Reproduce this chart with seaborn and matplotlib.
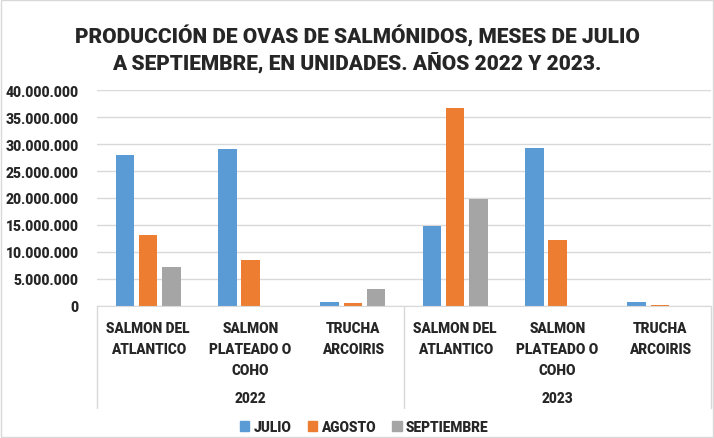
import numpy as np
import pandas as pd
import matplotlib
matplotlib.use("Agg")
import matplotlib.pyplot as plt
import matplotlib.ticker as mticker
import seaborn as sns

years = ["2022", "2023"]
species = ["SALMON DEL\nATLANTICO", "SALMON\nPLATEADO O\nCOHO", "TRUCHA\nARCOIRIS"]
months = ["JULIO", "AGOSTO", "SEPTIEMBRE"]

julio_2022 = [28000000, 29000000, 740000]
agosto_2022 = [13100000, 8500000, 600000]
sept_2022 = [7200000, 0, 3100000]
julio_2023 = [14800000, 29300000, 800000]
agosto_2023 = [36600000, 12200000, 250000]
sept_2023 = [19800000, 0, 30000]

colors = ["#5B9BD5", "#ED7D31", "#A5A5A5"]

rows = []
series = {
    "2022": [julio_2022, agosto_2022, sept_2022],
    "2023": [julio_2023, agosto_2023, sept_2023],
}
for y in years:
    for m, vals in zip(months, series[y]):
        for s, v in zip(species, vals):
            rows.append({"cat": y + "|" + s, "mes": m, "valor": v})
df = pd.DataFrame(rows)
order = [y + "|" + s for y in years for s in species]

W = "heavy"
sns.set_style("white")
plt.rcParams["font.family"] = ["Roboto", "DejaVu Sans"]
plt.rcParams["font.weight"] = W

fig = plt.figure(figsize=(7.14, 4.39), dpi=100)
ax = fig.add_axes([0.1359, 0.3007, 0.8599, 0.492])

sns.barplot(data=df, x="cat", y="valor", hue="mes", order=order,
            hue_order=months, palette=colors, width=0.68, gap=0.2,
            saturation=1, linewidth=0, ax=ax, legend=True)

ax.set_ylim(0, 40000000)
ax.set_xlim(-0.5, 5.5)
ax.yaxis.set_major_locator(mticker.MultipleLocator(5000000))
ax.yaxis.set_major_formatter(mticker.FuncFormatter(
    lambda v, p: f"{int(v):,}".replace(",", ".")))
ax.grid(axis="y", color="#D9D9D9", linewidth=1)
ax.set_axisbelow(True)
for side in ["left", "top", "right"]:
    ax.spines[side].set_visible(False)
ax.spines["bottom"].set_color("#D9D9D9")
ax.tick_params(axis="y", length=0, labelsize=10, pad=13)
ax.set_xlabel("")
ax.set_ylabel("")
ax.set_xticks(range(len(order)))
ax.set_xticklabels([s for y in years for s in species], fontsize=9.8,
                   linespacing=1.62, fontweight=W)
ax.tick_params(axis="x", length=0, pad=11)
for lab in ax.get_yticklabels():
    lab.set_fontweight(W)

# year labels and separators
trans = matplotlib.transforms.blended_transform_factory(ax.transData, ax.transAxes)
for i, y in enumerate(years):
    ax.text(1 + 3 * i, -0.425, y, transform=trans, ha="center", va="center",
            fontsize=9.8, fontweight=W)
for xs in [-0.5, 2.5, 5.5]:
    ax.plot([xs, xs], [0, -0.47], transform=trans, color="#D9D9D9",
            linewidth=1, clip_on=False)

ax.legend_.remove()
handles = [matplotlib.patches.Patch(color=c) for c in colors]
fig.legend(handles, months, loc="center", bbox_to_anchor=(0.51, 0.026),
           ncol=3, frameon=False, handlelength=0.7,
           handleheight=0.7, handletextpad=0.3, columnspacing=1.2,
           prop={"weight": W, "size": 9.8})

fig.text(0.5, 0.888,
         "PRODUCCIÓN DE OVAS DE SALMÓNIDOS, MESES DE JULIO\nA SEPTIEMBRE, EN UNIDADES. AÑOS 2022 Y 2023.",
         ha="center", va="center", fontsize=15, fontweight=W,
         linespacing=1.25)

fig.patches.append(matplotlib.patches.Rectangle(
    (0.001, 0.002), 0.997, 0.996, transform=fig.transFigure, fill=False,
    edgecolor="#D9D9D9", linewidth=1))

fig.savefig("out.png", dpi=100)
